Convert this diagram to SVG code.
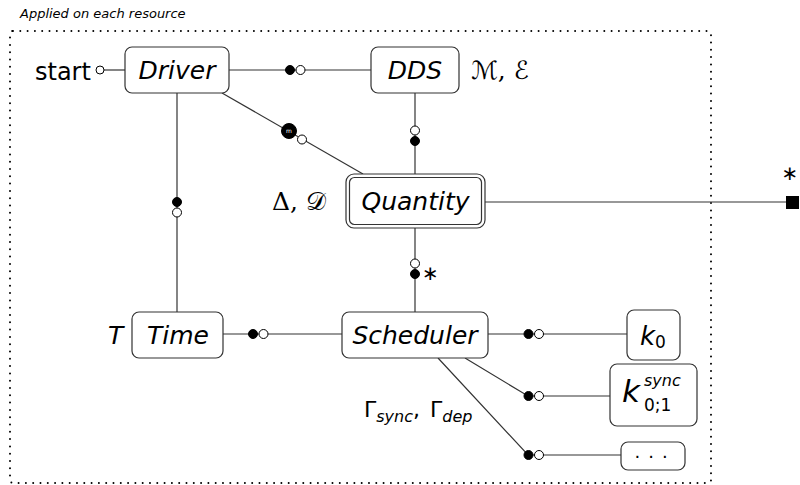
<svg xmlns="http://www.w3.org/2000/svg" width="800" height="485" viewBox="0 0 800 485">
<defs>
<style>
.box{fill:#fff;stroke:#333;stroke-width:1.2}
.ln{fill:none;stroke:#333;stroke-width:1.2}
.f{fill:#000;stroke:#000;stroke-width:1}
.o{fill:#fff;stroke:#000;stroke-width:1}
.t{font-family:"DejaVu Sans",sans-serif;font-style:italic;font-size:25px;fill:#000}
.u{font-family:"DejaVu Sans",sans-serif;font-size:24px;fill:#000}
.m{font-family:"DejaVu Serif","DejaVu Sans",serif;font-size:25px;fill:#000}
.ast{font-family:"DejaVu Sans",sans-serif;font-size:20px;fill:#000}
</style>
</defs>
<rect width="800" height="485" fill="#fff"/>
<text x="20" y="18" font-family="DejaVu Sans, sans-serif" font-style="italic" font-size="13" fill="#000">Applied on each resource</text>
<rect x="10" y="31" width="701" height="452" rx="3" fill="none" stroke="#000" stroke-width="2" stroke-linecap="round" stroke-dasharray="0 7.3"/>

<g id="connectors">
<line class="ln" x1="104" y1="70" x2="125" y2="70"/>
<line class="ln" x1="229" y1="70" x2="371" y2="70"/>
<line class="ln" x1="222" y1="93" x2="363" y2="174"/>
<line class="ln" x1="415" y1="93" x2="415" y2="174"/>
<line class="ln" x1="177" y1="93" x2="177" y2="312"/>
<line class="ln" x1="415" y1="228" x2="415" y2="312"/>
<line class="ln" x1="223" y1="334" x2="342" y2="334"/>
<line class="ln" x1="488" y1="334" x2="627" y2="334"/>
<polyline class="ln" points="465,358 528,396 610,396"/>
<polyline class="ln" points="438,358 528,455 621,455"/>
<line class="ln" x1="485" y1="202" x2="787" y2="202"/>
<circle class="o" cx="100" cy="70" r="4"/>
<circle class="f" cx="290" cy="70" r="4.5"/>
<circle class="o" cx="300.5" cy="70" r="4.5"/>
<circle class="f" cx="289" cy="131" r="7.5"/>
<text x="289" y="133" text-anchor="middle" font-family="DejaVu Sans, sans-serif" font-size="6" fill="#fff">m</text>
<circle class="o" cx="302" cy="139.5" r="4.5"/>
<circle class="o" cx="415" cy="130.5" r="4.5"/>
<circle class="f" cx="415" cy="141" r="4.5"/>
<circle class="f" cx="177" cy="202" r="4.5"/>
<circle class="o" cx="177" cy="212.5" r="4.5"/>
<circle class="o" cx="415" cy="263.5" r="4.5"/>
<circle class="f" cx="415" cy="274" r="4.5"/>
<circle class="f" cx="253" cy="334" r="4.5"/>
<circle class="o" cx="263.5" cy="334" r="4.5"/>
<circle class="f" cx="528.5" cy="334" r="4.5"/>
<circle class="o" cx="539" cy="334" r="4.5"/>
<circle class="f" cx="528.5" cy="396" r="4.5"/>
<circle class="o" cx="539" cy="396" r="4.5"/>
<circle class="f" cx="528.5" cy="455" r="4.5"/>
<circle class="o" cx="539" cy="455" r="4.5"/>
<rect x="786" y="196" width="13" height="13" fill="#000"/>
<text class="ast" x="790" y="180" text-anchor="middle">∗</text>
<text class="ast" x="430.5" y="280" text-anchor="middle">∗</text>
</g>

<text class="u" x="35" y="80">start</text>

<g id="driver">
<rect class="box" x="125" y="47" width="104" height="46" rx="7"/>
<text class="t" x="177" y="79" text-anchor="middle">Driver</text>
</g>

<g id="dds">
<rect class="box" x="371" y="47" width="88" height="46" rx="7"/>
<text class="t" x="415" y="79" text-anchor="middle">DDS</text>
<text class="m" x="471" y="79">ℳ, ℰ</text>
</g>

<g id="quantity">
<rect class="box" x="346" y="174" width="139" height="54" rx="8"/>
<rect class="box" x="349.5" y="177.5" width="132" height="47" rx="5"/>
<text class="t" x="415.5" y="210" text-anchor="middle">Quantity</text>
<text class="m" x="272" y="210">Δ, 𝒟</text>
</g>

<g id="time">
<rect class="box" x="132" y="312" width="91" height="46" rx="7"/>
<text class="t" x="178" y="344" text-anchor="middle">Time</text>
<text class="t" x="108" y="344">T</text>
</g>

<g id="scheduler">
<rect class="box" x="342" y="312" width="146" height="46" rx="7"/>
<text class="t" x="415" y="344" text-anchor="middle">Scheduler</text>
<text class="u" x="420" y="417" text-anchor="end" style="font-size:22px">Γ<tspan style="font-size:16px;font-style:italic" dy="5">sync</tspan><tspan dy="-5">,</tspan></text>
<text class="u" x="430" y="417" style="font-size:22px">Γ<tspan style="font-size:16px;font-style:italic" dy="5">dep</tspan></text>
</g>

<g id="k0">
<rect class="box" x="627" y="310" width="53" height="50" rx="7"/>
<text class="t" x="640" y="345" style="font-size:26px">k</text>
<text class="u" x="655" y="348" style="font-size:17px">0</text>
</g>

<g id="ksync">
<rect class="box" x="610" y="364" width="87" height="62" rx="7"/>
<text class="t" x="622" y="402" style="font-size:31px">k</text>
<text class="t" x="644" y="386" style="font-size:16px">sync</text>
<text class="u" x="644" y="411" style="font-size:17px">0;1</text>
</g>

<g id="more">
<rect class="box" x="621" y="442" width="64" height="28" rx="7"/>
<text class="u" x="634.5" y="458" style="font-size:18px" letter-spacing="8">...</text>
</g>
</svg>
